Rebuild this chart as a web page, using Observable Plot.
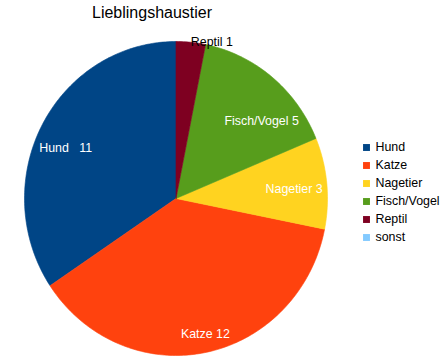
<!DOCTYPE html>
<html><head><meta charset="utf-8">
<script src="https://cdn.jsdelivr.net/npm/d3@7"></script>
<script src="https://cdn.jsdelivr.net/npm/@observablehq/plot@0.6"></script>
<style>
body{margin:0;background:#fff;}
#wrap{position:relative;width:446px;height:363px;font-family:"Liberation Sans",Arial,sans-serif;}
#title{position:absolute;left:92px;top:5px;font-size:16px;line-height:16px;color:#000;white-space:nowrap;}
#main{position:absolute;left:0;top:0;}
#legend{position:absolute;left:358px;top:136px;}
svg text{white-space:pre;}
</style></head><body><div id="wrap"><div id="main"></div><div id="title"></div><div id="legend"></div></div>
<script>
const chartTitle = "Lieblingshaustier";
const categories = ["Hund  ", "Katze", "Nagetier", "Fisch/Vogel", "Reptil", "sonst"];
const counts = [11, 12, 3, 5, 1, 0];
const colors = ["#004586", "#ff420e", "#ffd320", "#579d1c", "#7e0021", "#83caff"];

// layout
const CX = 175.5, CY = 198, RX = 151.5, RY = 157;
const FONT = 12.4, FIT = 0.975;
const fontFamily = '"Liberation Sans", Arial, sans-serif';

document.getElementById("title").textContent = chartTitle;

const total = d3.sum(counts);
let cum = 0;
const slices = categories.map((name, i) => {
  const a0 = cum / total * 2 * Math.PI; cum += counts[i];
  const a1 = cum / total * 2 * Math.PI;
  return {name, value: counts[i], a0, a1};
});

// polygon points per slice (unit circle, counterclockwise from top)
const pts = [];
for (const s of slices) {
  if (s.value <= 0) continue;
  const n = Math.max(2, Math.ceil((s.a1 - s.a0) / (Math.PI / 180)));
  pts.push({name: s.name, x: 0, y: 0});
  for (let k = 0; k <= n; k++) {
    const t = s.a0 + (s.a1 - s.a0) * k / n;
    pts.push({name: s.name, x: -Math.sin(t), y: Math.cos(t)});
  }
  pts.push({name: s.name, x: 0, y: 0});
}

// labels: best fit inside the slice, otherwise at the rim
const ctx = document.createElement("canvas").getContext("2d");
ctx.font = `${FONT}px "Liberation Sans"`;
function inWedge(nx, ny, s) {
  let t = Math.atan2(-nx, ny); if (t < 0) t += 2 * Math.PI;
  return t >= s.a0 && t <= s.a1;
}
const labels = [];
for (const s of slices) {
  if (s.value <= 0) continue;
  const text = s.name + " " + s.value;
  const hw = ctx.measureText(text).width / 2, hh = 7;
  const tm = (s.a0 + s.a1) / 2;
  const ux = -Math.sin(tm), uy = Math.cos(tm);           // unit (y up)
  let dx = ux * RX, dy = uy * RY;                        // pixel direction (y up)
  const dn = Math.hypot(dx, dy); dx /= dn; dy /= dn;
  const m = Math.max(Math.abs(dx), Math.abs(dy));
  const qx = -hw * dx / m, qy = -hh * dy / m;            // box point crossed by the ray
  let placed = null;
  for (let d = Math.max(RX, RY); d > 10; d -= 0.25) {
    const cx = d * dx - qx, cy = d * dy - qy;            // box centre (pixels, y up)
    const c = [[cx - hw, cy - hh], [cx + hw, cy - hh], [cx - hw, cy + hh], [cx + hw, cy + hh]]
      .map(([X, Y]) => [X / RX, Y / RY]);
    if (c.every(([a, b]) => a * a + b * b <= FIT * FIT)) {
      if (c.every(([a, b]) => inWedge(a, b, s))) placed = {x: cx / RX, y: cy / RY, text, outside: false};
      break;
    }
  }
  labels.push(placed || {x: ux, y: uy, text, outside: true});
}

const chart = Plot.plot({
  width: 446, height: 363, margin: 0,
  x: {domain: [-1, 1], range: [CX - RX, CX + RX], axis: null},
  y: {domain: [-1, 1], range: [CY + RY, CY - RY], axis: null},
  color: {domain: categories, range: colors},
  style: {fontFamily, fontSize: FONT + "px", background: "transparent"},
  marks: [
    Plot.line(pts, {x: "x", y: "y", z: "name", fill: "name", stroke: "name", strokeWidth: 0.6, curve: "linear"}),
    Plot.text(labels.filter(d => !d.outside), {x: "x", y: "y", text: "text", fill: "white", fontSize: FONT}),
    Plot.text(labels.filter(d => d.outside), {x: "x", y: "y", text: "text", fill: "black", textAnchor: "start", fontSize: FONT})
  ]
});
document.getElementById("main").appendChild(chart);

const legend = Plot.plot({
  width: 88, height: 111, margin: 0,
  y: {domain: categories, range: [0, 111], type: "band", padding: 0, axis: null},
  color: {domain: categories, range: colors},
  style: {fontFamily, fontSize: FONT + "px", background: "transparent"},
  marks: [
    Plot.dot(categories, {y: d => d, fill: d => d, symbol: "square", r: 3.9, frameAnchor: "left", dx: 8}),
    Plot.text(categories, {y: d => d, text: d => d.trim(), frameAnchor: "left", dx: 17, textAnchor: "start", fill: "black", fontSize: FONT})
  ]
});
document.getElementById("legend").appendChild(legend);
</script></body></html>
